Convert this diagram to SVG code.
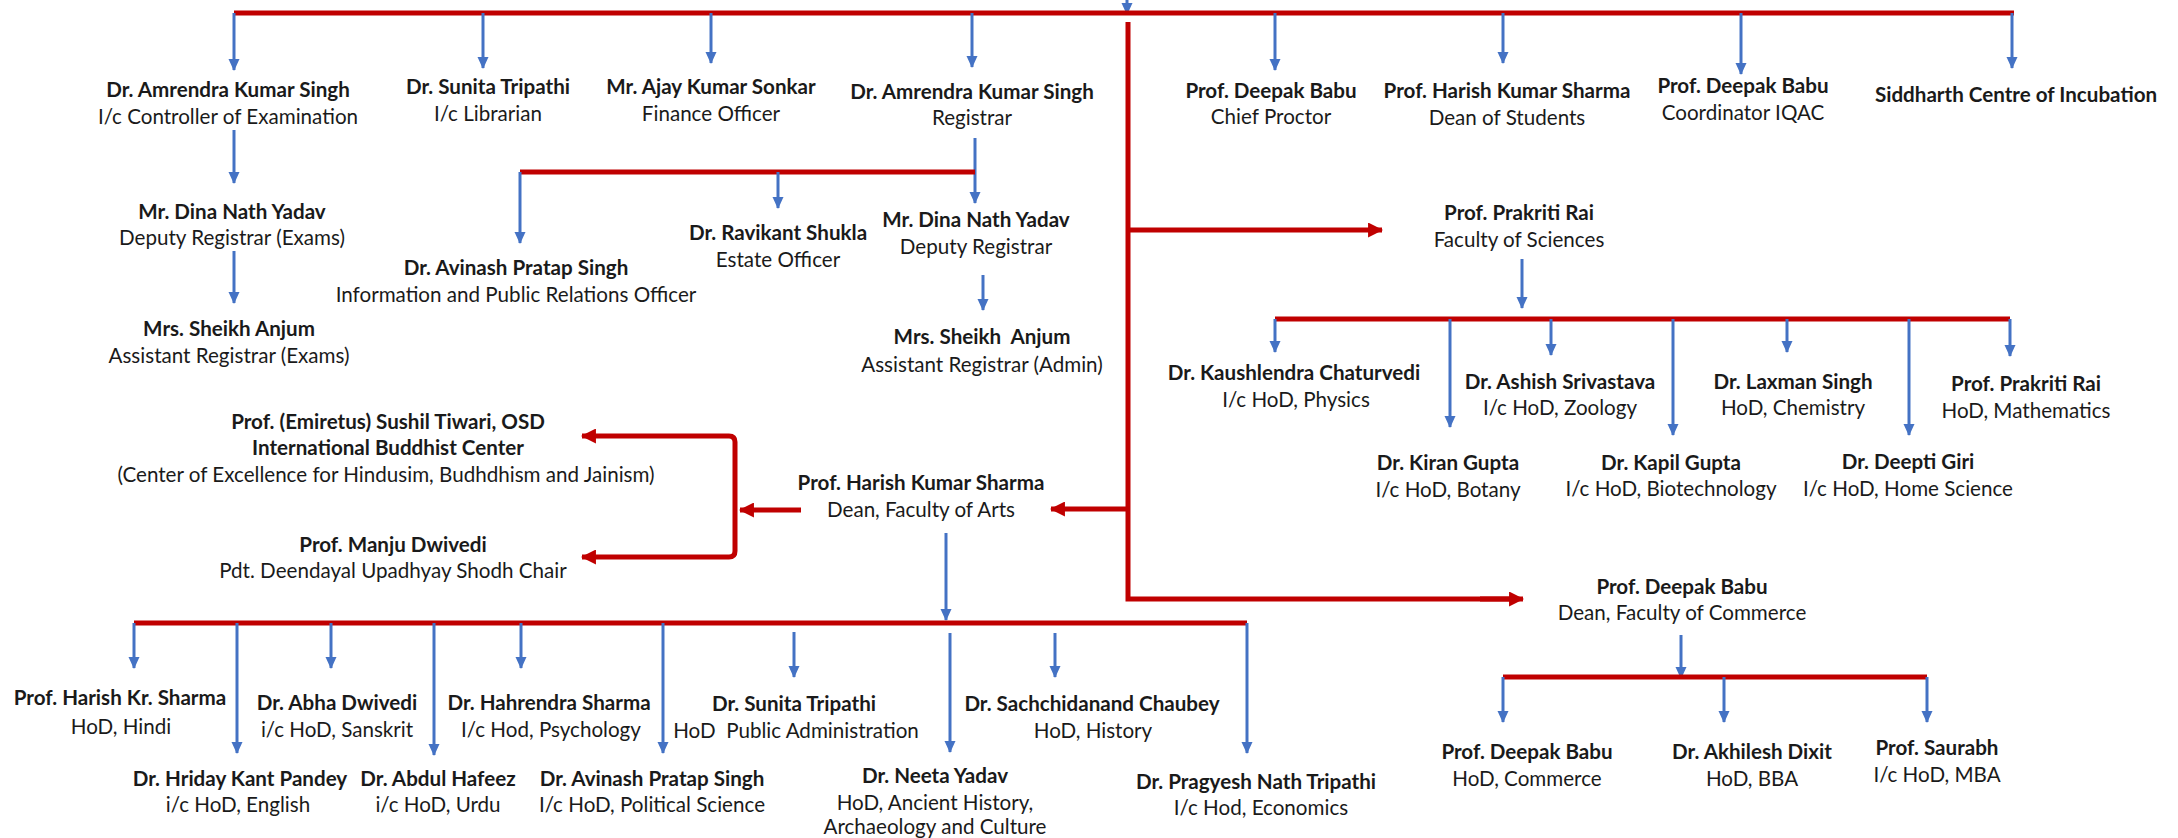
<svg xmlns="http://www.w3.org/2000/svg" width="2178" height="838" viewBox="0 0 2178 838">
<style>
text{font-family:Lato,"Liberation Sans",sans-serif;font-size:20.6px;fill:#1a1a1a;text-anchor:middle;white-space:pre}
.n{font-weight:700}
.r{fill:none;stroke:#C00000;stroke-width:5}
.ra{fill:none;stroke:#C00000;stroke-width:5;marker-end:url(#ar)}
.b{fill:none;stroke:#4472C4;stroke-width:3;marker-end:url(#ab)}
</style>
<defs>
<marker id="ab" viewBox="0 0 12 12" refX="11" refY="6" markerWidth="12" markerHeight="12" markerUnits="userSpaceOnUse" orient="auto"><path d="M0,0.5 L12,6 L0,11.5 z" fill="#4472C4"/></marker>
<marker id="ar" viewBox="0 0 14 14" refX="13" refY="7" markerWidth="15" markerHeight="15" markerUnits="userSpaceOnUse" orient="auto-start-reverse"><path d="M0,0 L14,7 L0,14 z" fill="#C00000"/></marker>
</defs>
<rect width="2178" height="838" fill="#fff"/>
<g id="connectors">
<path class="b" d="M1127,0 V14"/>
<path class="r" d="M234,13 H2014"/>
<path class="b" d="M234,13 V70"/>
<path class="b" d="M483,13 V68"/>
<path class="b" d="M711,13 V63"/>
<path class="b" d="M972,13 V67"/>
<path class="b" d="M1275,13 V70"/>
<path class="b" d="M1503,13 V63"/>
<path class="b" d="M1741,13 V74"/>
<path class="b" d="M2012,13 V68"/>
<path class="b" d="M234,130 V183"/>
<path class="b" d="M234,251 V303"/>
<path class="b" d="M975,138 V203"/>
<path class="r" d="M520,172 H975"/>
<path class="b" d="M520,172 V243"/>
<path class="b" d="M778,172 V208"/>
<path class="b" d="M983,275 V310"/>
<path class="r" d="M1128,22 V599 H1510"/>
<path class="ra" d="M1480,599 H1523"/>
<path class="ra" d="M1128,230 H1382"/>
<path class="ra" d="M1128,509 H1051"/>
<path class="ra" d="M801,510 H740"/>
<path class="ra" style="marker-start:url(#ar)" d="M582,436 H729 Q735,436 735,442 V551 Q735,557 729,557 H582"/>
<path class="b" d="M1522,259 V308"/>
<path class="r" d="M1275,319 H2010"/>
<path class="b" d="M1275,319 V352"/>
<path class="b" d="M1450,319 V427"/>
<path class="b" d="M1551,319 V355"/>
<path class="b" d="M1673,319 V435"/>
<path class="b" d="M1787,319 V352"/>
<path class="b" d="M1909,319 V435"/>
<path class="b" d="M2010,319 V356"/>
<path class="b" d="M946,533 V620"/>
<path class="r" d="M134,623 H1247"/>
<path class="b" d="M134,623 V668"/>
<path class="b" d="M237,623 V753"/>
<path class="b" d="M331,623 V668"/>
<path class="b" d="M434,623 V755"/>
<path class="b" d="M521,623 V668"/>
<path class="b" d="M663,623 V753"/>
<path class="b" d="M794,632 V677"/>
<path class="b" d="M950,633 V752"/>
<path class="b" d="M1055,633 V677"/>
<path class="b" d="M1247,623 V753"/>
<path class="b" d="M1681,635 V678"/>
<path class="r" d="M1503,677 H1927"/>
<path class="b" d="M1503,677 V722"/>
<path class="b" d="M1724,677 V722"/>
<path class="b" d="M1927,677 V722"/>
</g>
<g id="coe"><text class="n" x="228" y="97">Dr. Amrendra Kumar Singh</text><text x="228" y="124">I/c Controller of Examination</text></g>
<g id="librarian"><text class="n" x="488" y="94">Dr. Sunita Tripathi</text><text x="488" y="121">I/c Librarian</text></g>
<g id="finance"><text class="n" x="711" y="94">Mr. Ajay Kumar Sonkar</text><text x="711" y="121">Finance Officer</text></g>
<g id="registrar"><text class="n" x="972" y="99">Dr. Amrendra Kumar Singh</text><text x="972" y="125">Registrar</text></g>
<g id="proctor"><text class="n" x="1271" y="98">Prof. Deepak Babu</text><text x="1271" y="124">Chief Proctor</text></g>
<g id="dsw"><text class="n" x="1507" y="98">Prof. Harish Kumar Sharma</text><text x="1507" y="125">Dean of Students</text></g>
<g id="iqac"><text class="n" x="1743" y="93">Prof. Deepak Babu</text><text x="1743" y="120">Coordinator IQAC</text></g>
<g id="incubation"><text class="n" x="2016" y="102">Siddharth Centre of Incubation</text></g>
<g id="dr-exams"><text class="n" x="232" y="219">Mr. Dina Nath Yadav</text><text x="232" y="245">Deputy Registrar (Exams)</text></g>
<g id="ar-exams"><text class="n" x="229" y="336">Mrs. Sheikh Anjum</text><text x="229" y="363">Assistant Registrar (Exams)</text></g>
<g id="ipro"><text class="n" x="516" y="275">Dr. Avinash Pratap Singh</text><text x="516" y="302">Information and Public Relations Officer</text></g>
<g id="estate"><text class="n" x="778" y="240">Dr. Ravikant Shukla</text><text x="778" y="267">Estate Officer</text></g>
<g id="deputy-registrar"><text class="n" x="976" y="227">Mr. Dina Nath Yadav</text><text x="976" y="254">Deputy Registrar</text></g>
<g id="ar-admin"><text class="n" x="982" y="344">Mrs. Sheikh  Anjum</text><text x="982" y="372">Assistant Registrar (Admin)</text></g>
<g id="sciences"><text class="n" x="1519" y="220">Prof. Prakriti Rai</text><text x="1519" y="247">Faculty of Sciences</text></g>
<g id="physics"><text class="n" x="1294" y="380">Dr. Kaushlendra Chaturvedi</text><text x="1296" y="407">I/c HoD, Physics</text></g>
<g id="botany"><text class="n" x="1448" y="470">Dr. Kiran Gupta</text><text x="1448" y="497">I/c HoD, Botany</text></g>
<g id="zoology"><text class="n" x="1560" y="389">Dr. Ashish Srivastava</text><text x="1560" y="415">I/c HoD, Zoology</text></g>
<g id="biotech"><text class="n" x="1671" y="470">Dr. Kapil Gupta</text><text x="1671" y="496">I/c HoD, Biotechnology</text></g>
<g id="chemistry"><text class="n" x="1793" y="389">Dr. Laxman Singh</text><text x="1793" y="415">HoD, Chemistry</text></g>
<g id="homescience"><text class="n" x="1908" y="469">Dr. Deepti Giri</text><text x="1908" y="496">I/c HoD, Home Science</text></g>
<g id="maths"><text class="n" x="2026" y="391">Prof. Prakriti Rai</text><text x="2026" y="418">HoD, Mathematics</text></g>
<g id="ibc"><text class="n" x="388" y="429">Prof. (Emiretus) Sushil Tiwari, OSD</text><text class="n" x="388" y="455">International Buddhist Center</text><text x="386" y="482">(Center of Excellence for Hindusim, Budhdhism and Jainism)</text></g>
<g id="shodh"><text class="n" x="393" y="552">Prof. Manju Dwivedi</text><text x="393" y="578">Pdt. Deendayal Upadhyay Shodh Chair</text></g>
<g id="arts"><text class="n" x="921" y="490">Prof. Harish Kumar Sharma</text><text x="921" y="517">Dean, Faculty of Arts</text></g>
<g id="hindi"><text class="n" x="120" y="705">Prof. Harish Kr. Sharma</text><text x="121" y="734">HoD, Hindi</text></g>
<g id="sanskrit"><text class="n" x="337" y="710">Dr. Abha Dwivedi</text><text x="337" y="737">i/c HoD, Sanskrit</text></g>
<g id="psychology"><text class="n" x="549" y="710">Dr. Hahrendra Sharma</text><text x="551" y="737">I/c Hod, Psychology</text></g>
<g id="pubadmin"><text class="n" x="794" y="711">Dr. Sunita Tripathi</text><text x="796" y="738">HoD  Public Administration</text></g>
<g id="history"><text class="n" x="1092" y="711">Dr. Sachchidanand Chaubey</text><text x="1093" y="738">HoD, History</text></g>
<g id="english"><text class="n" x="240" y="786">Dr. Hriday Kant Pandey</text><text x="238" y="812">i/c HoD, English</text></g>
<g id="urdu"><text class="n" x="438" y="786">Dr. Abdul Hafeez</text><text x="438" y="812">i/c HoD, Urdu</text></g>
<g id="polsci"><text class="n" x="652" y="786">Dr. Avinash Pratap Singh</text><text x="652" y="812">I/c HoD, Political Science</text></g>
<g id="ancient"><text class="n" x="935" y="783">Dr. Neeta Yadav</text><text x="935" y="810">HoD, Ancient History,</text><text x="935" y="834">Archaeology and Culture</text></g>
<g id="economics"><text class="n" x="1256" y="789">Dr. Pragyesh Nath Tripathi</text><text x="1261" y="815">I/c Hod, Economics</text></g>
<g id="commerce"><text class="n" x="1682" y="594">Prof. Deepak Babu</text><text x="1682" y="620">Dean, Faculty of Commerce</text></g>
<g id="hod-commerce"><text class="n" x="1527" y="759">Prof. Deepak Babu</text><text x="1527" y="786">HoD, Commerce</text></g>
<g id="bba"><text class="n" x="1752" y="759">Dr. Akhilesh Dixit</text><text x="1752" y="786">HoD, BBA</text></g>
<g id="mba"><text class="n" x="1937" y="755">Prof. Saurabh</text><text x="1937" y="782">I/c HoD, MBA</text></g>
</svg>
